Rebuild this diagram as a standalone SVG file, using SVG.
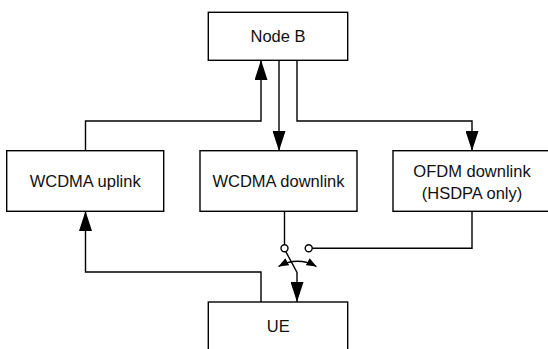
<svg xmlns="http://www.w3.org/2000/svg" width="548" height="349" viewBox="0 0 548 349">
  <style>
    .box { fill: #ffffff; stroke: #000000; stroke-width: 1.4; }
    .lbl { font-family: "Liberation Sans", Arial, sans-serif; font-size: 16.5px; fill: #111111; text-anchor: middle; }
    .wire { fill: none; stroke: #000000; stroke-width: 1.4; }
    .arrow { marker-end: url(#head); }
    .term { fill: #ffffff; stroke: #000000; stroke-width: 1.4; }
  </style>
  <defs>
    <marker id="head" viewBox="0 0 20 13" refX="20" refY="6.5" markerWidth="20" markerHeight="13" markerUnits="userSpaceOnUse" orient="auto">
      <path d="M0,0 L20,6.5 L0,13 z" fill="#000000"/>
    </marker>
    <marker id="tick" viewBox="0 0 10 8" refX="10" refY="4" markerWidth="10" markerHeight="8" markerUnits="userSpaceOnUse" orient="auto-start-reverse">
      <path d="M0,0 L10,4 L0,8 z" fill="#000000"/>
    </marker>
  </defs>

  <rect width="548" height="349" fill="#ffffff"/>

  <!-- connectors -->
  <g id="connectors">
    <!-- UE to WCDMA uplink -->
    <path class="wire arrow" d="M261,302 V272 H85.5 V211"/>
    <!-- WCDMA uplink to Node B -->
    <path class="wire arrow" d="M85.5,151 V121 H261 V60"/>
    <!-- Node B to WCDMA downlink -->
    <path class="wire arrow" d="M279,60 V151"/>
    <!-- Node B to OFDM downlink -->
    <path class="wire arrow" d="M297,60 V121 H472 V151"/>
    <!-- WCDMA downlink to switch contact -->
    <path class="wire" d="M284.5,211 V244.8"/>
    <!-- OFDM downlink to switch contact -->
    <path class="wire" d="M472,211 V248.3 H312.2"/>
    <!-- switch blade and feed to UE -->
    <path class="wire arrow" d="M285.8,251.6 L297,272.5 V302"/>
    <!-- switch throw -->
    <path class="wire" d="M278.5,266.5 Q297.5,256 316.5,266.5" marker-start="url(#tick)" marker-end="url(#tick)"/>
    <circle class="term" cx="284.5" cy="248.3" r="3.5"/>
    <circle class="term" cx="308.7" cy="248.3" r="3.5"/>
  </g>

  <g id="nodeB">
    <rect class="box" x="208.3" y="12.3" width="139.4" height="48"/>
    <text class="lbl" x="278" y="41.5">Node B</text>
  </g>

  <g id="wcdmaUplink">
    <rect class="box" x="6.7" y="150.7" width="157" height="60.6"/>
    <text class="lbl" x="85.2" y="187">WCDMA uplink</text>
  </g>

  <g id="wcdmaDownlink">
    <rect class="box" x="200" y="150.7" width="157" height="60.6"/>
    <text class="lbl" x="278.5" y="187">WCDMA downlink</text>
  </g>

  <g id="ofdmDownlink">
    <rect class="box" x="393" y="150.7" width="158" height="60.6"/>
    <text class="lbl" x="472" y="176.5">OFDM downlink</text>
    <text class="lbl" x="472" y="199">(HSDPA only)</text>
  </g>

  <g id="ue">
    <rect class="box" x="208.3" y="302" width="139.4" height="60"/>
    <text class="lbl" x="278.3" y="332">UE</text>
  </g>
</svg>
